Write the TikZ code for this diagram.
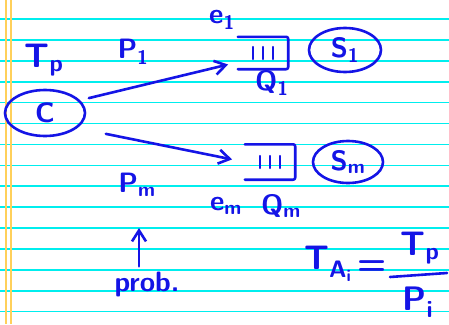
\documentclass[tikz,border=0pt]{standalone}
\usepackage{amsmath}
\usetikzlibrary{arrows.meta, positioning, shapes.geometric}
\definecolor{ink}{RGB}{20,20,230}
\definecolor{ruleline}{RGB}{0,238,238}
\definecolor{marginline}{RGB}{255,208,90}
\tikzstyle{rule} = [ruleline, line width=1.6pt]
\tikzstyle{margin} = [marginline, line width=1.8pt]
\tikzstyle{pen} = [ink, line width=2.6pt, line cap=round, line join=round]
\tikzstyle{arrow} = [pen, -{Straight Barb[length=11pt, width=14pt]}]
\tikzstyle{hand} = [text=ink, font=\sffamily\bfseries\fontsize{28}{30}\selectfont, inner sep=1pt]
\tikzstyle{big} = [font=\sffamily\bfseries\fontsize{34}{36}\selectfont]
\tikzstyle{station} = [ellipse, draw, pen, hand, inner sep=0pt]
\tikzstyle{queue} = [minimum width=50pt, minimum height=32pt,
  path picture={\foreach \dx in {-10,0,10}
    \draw[pen, line width=2.2pt] ([xshift=\dx pt]path picture bounding box.center) ++(0,6pt) -- ++(0,-12pt);}]

\begin{document}
\begin{tikzpicture}[x=1pt, y=-1pt]
  \useasboundingbox (0,0) rectangle (449,324);
  \fill[white] (0,0) rectangle (449,324);
  % ruled paper
  \foreach \k in {0,...,14}
    \draw[rule] (0,19+20.9*\k) -- (449,19+20.9*\k);
  \foreach \x in {6,11}
    \draw[margin] (\x,0) -- (\x,324);

  % customers
  \node[station, minimum width=80pt, minimum height=46pt] (C) at (45,113) {C};
  \node[hand, big] (Tp) at (44,60) {T\textsubscript{p}};

  % queue 1
  \node[queue] (q1) at (263,53) {};
  \draw[pen, rounded corners=2pt] (q1.north west) -- (q1.north east) -- (q1.south east) -- (q1.south west);
  \node[station, minimum width=72pt, minimum height=44pt] (S1) at (345,50) {S\textsubscript{1}};
  \node[hand] (e1) at (222,20) {e\textsubscript{1}};
  \node[hand] (Q1) at (272,83) {Q\textsubscript{1}};

  % queue m
  \node[queue, minimum height=35pt] (qm) at (270,162) {};
  \draw[pen, rounded corners=2pt] (qm.north west) -- (qm.north east) -- (qm.south east) -- (qm.south west);
  \node[station, minimum width=70pt, minimum height=42pt] (Sm) at (348,162) {S\textsubscript{m}};
  \node[hand] (em) at (226,206) {e\textsubscript{m}};
  \node[hand] (Qm) at (281,206) {Q\textsubscript{m}};

  % routing
  \draw[arrow, shorten <=9pt, shorten >=10pt] (C.20) -- (q1.200);
  \draw[arrow, shorten <=29pt, shorten >=13pt] (C.-25) -- (qm.180);
  \node[hand] (P1) at (133,52) {P\textsubscript{1}};
  \node[hand] (Pm) at (137,185) {P\textsubscript{m}};

  \node[hand] (prob) at (147,284) {prob.};
  \coordinate (probtip) at (139,228);
  \draw[arrow, shorten <=4pt] (prob.north -| probtip) -- (probtip);

  % arrival time
  \node[hand, big, inner sep=0pt] (tA) at (328,264) {T\textsubscript{A\textsubscript{i}}};
  \node[hand, big, inner sep=0pt] (eq) at (372,268) {=};
  \node[hand, big] (num) at (420,248) {T\textsubscript{p}};
  \node[hand, big] (den) at (418,302) {P\textsubscript{i}};
  \draw[pen] (390,277) -- (447,273);
\end{tikzpicture}
\end{document}
